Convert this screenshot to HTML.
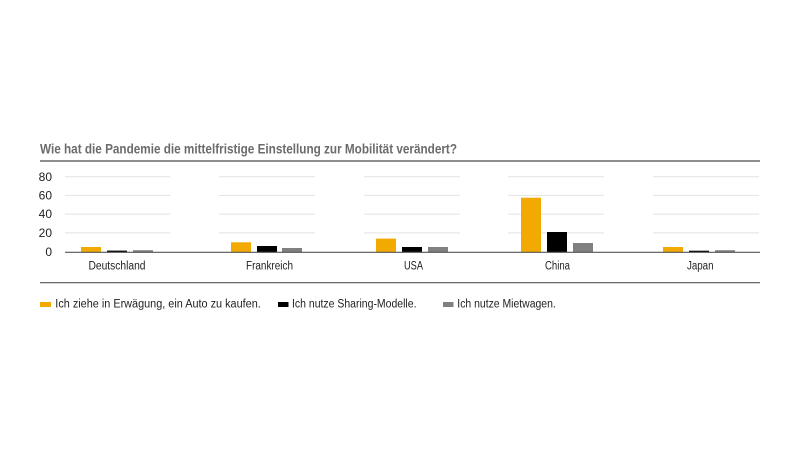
<!DOCTYPE html>
<html>
<head>
<meta charset="utf-8">
<style>
  html,body{margin:0;padding:0;background:#fff;}
  svg{display:block;}
  text{font-family:"Liberation Sans", sans-serif;}
</style>
</head>
<body>
<svg width="800" height="450" viewBox="0 0 800 450" xmlns="http://www.w3.org/2000/svg">
  <rect width="800" height="450" fill="#fff"/>
  <!-- Title -->
  <text x="40" y="153.5" font-size="13.5" font-weight="bold" fill="#6b6b6b" textLength="417" lengthAdjust="spacingAndGlyphs">Wie hat die Pandemie die mittelfristige Einstellung zur Mobilität verändert?</text>
  <line x1="40" y1="161" x2="760" y2="161" stroke="#4a4a4a" stroke-width="1.2"/>

  <!-- Gridlines -->
  <g stroke="#e2e2e2" stroke-width="1">
    <line x1="65" y1="176.7" x2="170" y2="176.7"/>
    <line x1="65" y1="195.4" x2="170" y2="195.4"/>
    <line x1="65" y1="214.1" x2="170" y2="214.1"/>
    <line x1="65" y1="232.9" x2="170" y2="232.9"/>

    <line x1="219" y1="176.7" x2="315" y2="176.7"/>
    <line x1="219" y1="195.4" x2="315" y2="195.4"/>
    <line x1="219" y1="214.1" x2="315" y2="214.1"/>
    <line x1="219" y1="232.9" x2="315" y2="232.9"/>

    <line x1="364" y1="176.7" x2="460" y2="176.7"/>
    <line x1="364" y1="195.4" x2="460" y2="195.4"/>
    <line x1="364" y1="214.1" x2="460" y2="214.1"/>
    <line x1="364" y1="232.9" x2="460" y2="232.9"/>

    <line x1="508" y1="176.7" x2="604" y2="176.7"/>
    <line x1="508" y1="195.4" x2="604" y2="195.4"/>
    <line x1="508" y1="214.1" x2="604" y2="214.1"/>
    <line x1="508" y1="232.9" x2="604" y2="232.9"/>

    <line x1="653" y1="176.7" x2="759" y2="176.7"/>
    <line x1="653" y1="195.4" x2="759" y2="195.4"/>
    <line x1="653" y1="214.1" x2="759" y2="214.1"/>
    <line x1="653" y1="232.9" x2="759" y2="232.9"/>
  </g>

  <!-- Y labels -->
  <g font-size="12" fill="#222" text-anchor="end">
    <text x="52" y="180.8">80</text>
    <text x="52" y="199.5">60</text>
    <text x="52" y="218.2">40</text>
    <text x="52" y="237">20</text>
    <text x="52" y="255.8">0</text>
  </g>

  <!-- Bars -->
  <g>
    <rect x="81" y="247" width="20" height="5" fill="#f2a900"/>
    <rect x="107" y="250.6" width="20" height="1.4" fill="#000"/>
    <rect x="133" y="250.2" width="20" height="1.8" fill="#808080"/>

    <rect x="231" y="242.3" width="20" height="9.7" fill="#f2a900"/>
    <rect x="257" y="246" width="20" height="6" fill="#000"/>
    <rect x="282" y="248" width="20" height="4" fill="#808080"/>

    <rect x="376" y="238.6" width="20" height="13.4" fill="#f2a900"/>
    <rect x="402" y="247" width="20" height="5" fill="#000"/>
    <rect x="428" y="247" width="20" height="5" fill="#808080"/>

    <rect x="521" y="197.7" width="20" height="54.3" fill="#f2a900"/>
    <rect x="547" y="232" width="20" height="20" fill="#000"/>
    <rect x="573" y="243" width="20" height="9" fill="#808080"/>

    <rect x="663" y="247" width="20" height="5" fill="#f2a900"/>
    <rect x="689" y="250.7" width="20" height="1.3" fill="#000"/>
    <rect x="715" y="250.2" width="20" height="1.8" fill="#808080"/>
  </g>

  <!-- Baseline -->
  <line x1="65" y1="252.3" x2="760" y2="252.3" stroke="#555" stroke-width="1.2"/>

  <!-- Category labels -->
  <g font-size="11.5" fill="#222">
    <text x="88.5" y="269.5" textLength="57" lengthAdjust="spacingAndGlyphs">Deutschland</text>
    <text x="246" y="269.5" textLength="47" lengthAdjust="spacingAndGlyphs">Frankreich</text>
    <text x="404" y="269.5" textLength="19" lengthAdjust="spacingAndGlyphs">USA</text>
    <text x="545" y="269.5" textLength="25" lengthAdjust="spacingAndGlyphs">China</text>
    <text x="687" y="269.5" textLength="26.5" lengthAdjust="spacingAndGlyphs">Japan</text>
  </g>

  <!-- Bottom separator -->
  <line x1="40" y1="282.7" x2="760" y2="282.7" stroke="#555" stroke-width="1.2"/>

  <!-- Legend -->
  <rect x="40" y="302" width="11" height="5" fill="#f2a900"/>
  <rect x="278" y="302" width="10.5" height="5" fill="#000"/>
  <rect x="443" y="302" width="10.5" height="5" fill="#808080"/>
  <g font-size="11.5" fill="#222">
    <text x="55.3" y="307.3" textLength="205.5" lengthAdjust="spacingAndGlyphs">Ich ziehe in Erwägung, ein Auto zu kaufen.</text>
    <text x="292" y="307.3" textLength="124.5" lengthAdjust="spacingAndGlyphs">Ich nutze Sharing-Modelle.</text>
    <text x="457.3" y="307.3" textLength="98.5" lengthAdjust="spacingAndGlyphs">Ich nutze Mietwagen.</text>
  </g>
</svg>
</body>
</html>
